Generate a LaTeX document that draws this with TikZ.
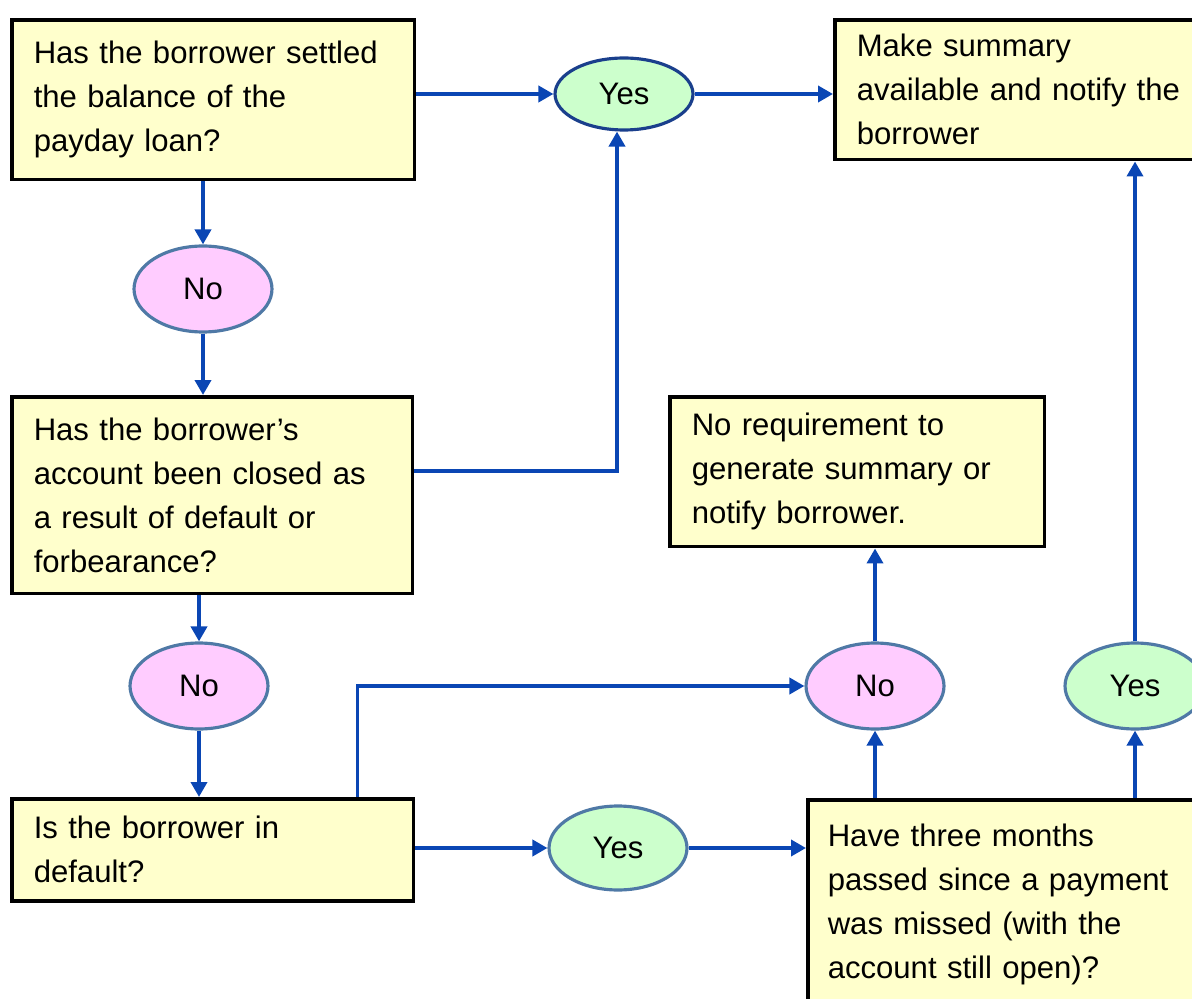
\documentclass[tikz,border=0pt]{standalone}
\usepackage{fontspec}
\setmainfont{Liberation Sans}
\usetikzlibrary{shapes.geometric,arrows.meta}
\definecolor{boxfill}{HTML}{FFFFCC}
\definecolor{yesfill}{HTML}{CCFFCC}
\definecolor{nofill}{HTML}{FFCCFF}
\definecolor{rimblue}{HTML}{4F79A6}
\definecolor{navyrim}{HTML}{1A3F8C}
\definecolor{flowblue}{HTML}{0A46B4}
\begin{document}
\begin{tikzpicture}[x=0.02cm, y=-0.02cm,
    box/.style={draw=black, line width=2pt, fill=boxfill, anchor=north west,
        align=left, inner xsep=0.44cm, font=\fontsize{17.7}{25}\selectfont},
    answer/.style={ellipse, draw=rimblue, line width=1.8pt, minimum width=2.76cm,
        minimum height=1.72cm, inner sep=0pt, font=\fontsize{17.7}{22}\selectfont},
    yes/.style={answer, fill=yesfill},
    no/.style={answer, fill=nofill},
    flow/.style={draw=flowblue, line width=2.1pt, -{Triangle[length=0.3cm,width=0.32cm]}}]

    \useasboundingbox (0,0) rectangle (1192,999);

    % questions and outcomes
    \node[box, minimum width=8.06cm, minimum height=3.2cm, text width=7.18cm] (settled) at (10,18)
        {Has the borrower settled\\the balance of the\\payday loan?};
    \node[box, minimum width=8.4cm, minimum height=2.8cm, text width=7.52cm] (notify) at (833,18)
        {Make summary\\available and notify the\\borrower};
    \node[box, minimum width=8.02cm, minimum height=3.94cm, text width=7.14cm] (closed) at (10,395)
        {Has the borrower’s\\account been closed as\\a result of default or\\forbearance?};
    \node[box, minimum width=7.5cm, minimum height=3.0cm, text width=6.62cm] (norequire) at (668,395)
        {No requirement to\\generate summary or\\notify borrower.};
    \node[box, minimum width=8.04cm, minimum height=2.04cm, text width=7.16cm] (default) at (10,797)
        {Is the borrower in\\default?};
    \node[box, minimum width=8.4cm, minimum height=4.2cm, text width=7.6cm, inner xsep=0.4cm] (threemonths) at (806,798)
        {Have three months\\passed since a payment\\was missed (with the\\account still open)?};

    % answers
    \node[yes, draw=navyrim, minimum height=1.44cm] (yesA) at (624,94) {Yes};
    \node[no] (noA) at (203,289) {No};
    \node[no] (noB) at (199,686) {No};
    \node[no] (noC) at (875,686) {No};
    \node[yes, minimum width=2.8cm] (yesC) at (1135,686) {Yes};
    \node[yes, minimum height=1.68cm] (yesB) at (618,848) {Yes};

    % connectors
    \draw[flow] (settled.east |- yesA.west) -- (yesA.west);
    \draw[flow] (yesA.east) -- (notify.west |- yesA.east);
    \draw[flow] (noA.north |- settled.south) -- (noA.north);
    \draw[flow] (noA.south) -- (noA.south |- closed.north);
    \draw[flow] ([yshift=-1.52cm]closed.north east) -| ([xshift=-0.14cm]yesA.south);
    \draw[flow] (noB.north |- closed.south) -- (noB.north);
    \draw[flow] (noB.south) -- (noB.south |- default.north);
    \draw[flow] (default.east |- yesB.west) -- (yesB.west);
    \draw[flow] (yesB.east) -- (threemonths.west |- yesB.east);
    \draw[flow] ([xshift=-1.16cm]default.north east) |- (noC.west);
    \draw[flow] (noC.south |- threemonths.north) -- (noC.south);
    \draw[flow] (noC.north) -- (noC.north |- norequire.south);
    \draw[flow] (yesC.south |- threemonths.north) -- (yesC.south);
    \draw[flow] (yesC.north) -- (yesC.north |- notify.south);

\end{tikzpicture}
\end{document}
